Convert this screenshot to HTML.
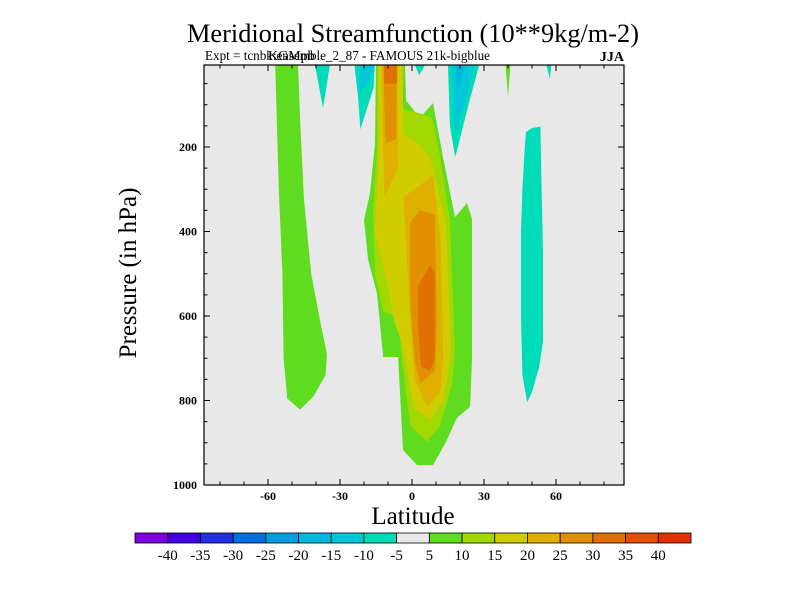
<!DOCTYPE html>
<html><head><meta charset="utf-8"><style>
body{margin:0;background:#fff;}
svg{display:block;font-family:"Liberation Serif",serif;}
</style></head><body>
<svg id="chart" width="800" height="600" viewBox="0 0 800 600" xmlns="http://www.w3.org/2000/svg">
<text x="413" y="42" text-anchor="middle" font-size="26" textLength="452" lengthAdjust="spacingAndGlyphs">Meridional Streamfunction (10**9kg/m-2)</text>
<text x="205" y="60" font-size="14" textLength="285" lengthAdjust="spacingAndGlyphs">Expt = tcnbk:ensemble_2_87 - FAMOUS 21k-bigblue</text>
<text x="268" y="60" font-size="14">KGMpb</text>
<text x="624" y="61" text-anchor="end" font-size="14" font-weight="bold">JJA</text>
<rect x="204" y="65" width="420" height="420" fill="#e8e8e8"/>
<g id="contours"></g>
<g id="axes"></g>
<rect x="204" y="65" width="420" height="420" fill="none" stroke="#000" stroke-width="1.2"/>
<text x="413" y="524" text-anchor="middle" font-size="25">Latitude</text>
<text transform="translate(136,273) rotate(-90)" text-anchor="middle" font-size="25">Pressure (in hPa)</text>
<g id="colorbar"></g>
</svg>
<script>
const levelColors = ["#8000e0","#4000e0","#2030e0","#0070e0","#00a0e0","#00b8e0","#00c8d8","#00dcb8","#e8e8e8","#60dc20","#a0d800","#d0cc00","#e0b000","#e09000","#e07000","#e05000","#e03000"];
const levelLabels = ["-40","-35","-30","-25","-20","-15","-10","-5","5","10","15","20","25","30","35","40"];
const xTickValues = [-60,-30,0,30,60];
const yTickValues = [200,400,600,800,1000];
// contour regions: colour index per region, and [[lat, hPa], ...] outlines
const regionLevels = [9,9,7,7,6,7,7,6,5,9,7,7,10,11,12,12,13,13,14,14];
const regionShapes = [
 [[-57,6],[-47.5,6],[-46.5,150],[-45,325],[-42,500],[-38,620],[-35.4,690],[-36,740],[-41,790],[-46.7,822],[-52,795],[-53.5,700],[-54,500],[-55.5,300]],
 [[-15,6],[-2.9,6],[-2.5,90],[3.3,131],[8.75,96],[12.9,224],[17.9,366],[22.9,333],[25,370],[25,704],[24.2,815],[18.75,841],[14,900],[8.75,953],[2.1,953],[-3.75,917],[-5.8,697],[-12,697],[-14.6,546],[-18.3,467],[-20,373],[-17.5,309],[-15.4,191]],
 [[-40.4,6],[-34.2,6],[-37.1,108]],
 [[-24,6],[-15.5,6],[-16,60],[-21.5,158],[-22.5,80]],
 [[-22,6],[-15.5,6],[-17,40],[-22,70]],
 [[1.2,6],[5.4,6],[3,30]],
 [[15,6],[28,6],[24,90],[18,224],[15.8,150]],
 [[16.5,6],[26,6],[23,80],[18,170]],
 [[18,6],[22,6],[19,70]],
 [[39,6],[41,6],[40,80]],
 [[56,6],[58,6],[57.5,40]],
 [[47.5,165],[50,155],[53.5,152],[54,300],[54.6,450],[54.6,660],[53,720],[50,780],[48,804],[46,740],[45.4,600],[45.4,400],[46,300],[47,200]],
 [[-14.5,6],[-3.5,6],[-4,110],[3.3,120],[8.3,130],[11.7,224],[15.8,373],[17.9,680],[16.7,760],[11.7,860],[6.25,898],[-0.8,860],[-4.2,700],[-6,600],[-12,590],[-15.4,500],[-16.3,359],[-14.5,191]],
 [[-14,6],[-4,6],[-3.5,170],[2,190],[7.5,224],[14.2,384],[16.25,680],[14.5,750],[12.9,800],[7.5,845],[1,820],[-2.9,700],[-5,650],[-7.5,610],[-10,530],[-15.4,400],[-14,240]],
 [[-12.8,6],[-6,6],[-5.8,250],[-11.5,318]],
 [[-3.5,318],[8.75,268],[12.1,430],[13,700],[11.7,780],[6.25,815],[1,750],[-0.8,600]],
 [[-12,6],[-6.5,6],[-6.5,180],[-11,191]],
 [[-0.8,380],[3.3,350],[9.5,360],[10.4,620],[9.6,730],[3.3,760],[1,700],[-0.8,560]],
 [[-11.6,6],[-6.2,6],[-6.2,50],[-11.6,50]],
 [[2.5,530],[7.5,480],[9.4,500],[9.4,700],[7.5,730],[3.8,720],[2.5,620]]
];
const xScale = lat => 412 + lat * 2.4;
const yScale = p => 485 - (1000 - p) * 0.4225;
const NS = "http://www.w3.org/2000/svg";
const cg = document.getElementById("contours");
regionShapes.forEach((shape, i) => {
  const poly = document.createElementNS(NS, "polygon");
  poly.setAttribute("points", shape.map(d => xScale(d[0]).toFixed(1) + "," + yScale(d[1]).toFixed(1)).join(" "));
  poly.setAttribute("fill", levelColors[regionLevels[i]]);
  
  
  cg.appendChild(poly);
});
const ag = document.getElementById("axes");
function line(x1,y1,x2,y2,name){
  const l = document.createElementNS(NS,"line");
  l.setAttribute("x1",x1);l.setAttribute("y1",y1);l.setAttribute("x2",x2);l.setAttribute("y2",y2);
  l.setAttribute("stroke","#000");l.setAttribute("stroke-width","1");
  
  
  ag.appendChild(l);
}
for (let lat = -80; lat <= 80; lat += 10) {
  const x = xScale(lat); const len = (lat % 30 === 0) ? 6 : 3.5;
  line(x,485,x,485-len,'x-tick');
  line(x,65,x,65+len,'x-tick-top');
}
for (let p = 50; p <= 1000; p += 50) {
  const y = yScale(p); const len = (p % 200 === 0) ? 6 : 3.5;
  line(204,y,204+len,y,'y-tick');
  line(624,y,624-len,y,'y-tick-right');
}
xTickValues.forEach(v => {
  const t = document.createElementNS(NS,"text");
  t.setAttribute("x", xScale(v)); t.setAttribute("y", 500);
  t.setAttribute("text-anchor","middle"); t.setAttribute("font-size","12"); t.setAttribute("font-weight","bold");
  t.textContent = v;
  
  
  ag.appendChild(t);
});
yTickValues.forEach(v => {
  const t = document.createElementNS(NS,"text");
  t.setAttribute("x", 197); t.setAttribute("y", yScale(v) + 4);
  t.setAttribute("text-anchor","end"); t.setAttribute("font-size","12"); t.setAttribute("font-weight","bold");
  t.textContent = v;
  
  
  ag.appendChild(t);
});
const cb = document.getElementById("colorbar");
const bw = (691 - 135) / levelColors.length;
levelColors.forEach((c, i) => {
  const r = document.createElementNS(NS,"rect");
  r.setAttribute("x", 135 + i*bw); r.setAttribute("y", 533);
  r.setAttribute("width", bw); r.setAttribute("height", 10);
  r.setAttribute("fill", c); r.setAttribute("stroke","#000"); r.setAttribute("stroke-width","0.8");
  
  
  cb.appendChild(r);
});
levelLabels.forEach((lab, i) => {
  const t = document.createElementNS(NS,"text");
  t.setAttribute("x", 135 + (i+1)*bw); t.setAttribute("y", 560);
  t.setAttribute("text-anchor","middle"); t.setAttribute("font-size","15");
  t.textContent = lab;
  
  
  cb.appendChild(t);
});
</script>
</body></html>
